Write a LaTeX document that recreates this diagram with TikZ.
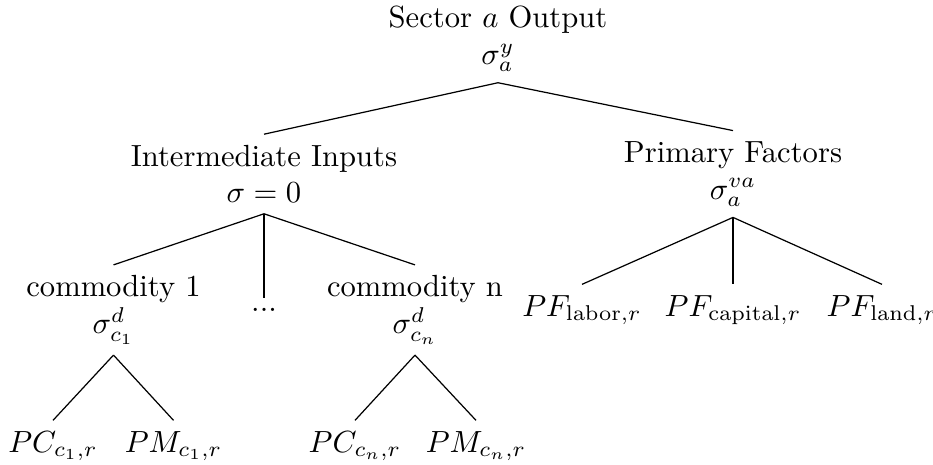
\documentclass[tikz,border=0pt]{standalone}
\begin{document}
\begin{tikzpicture}[x=0.3268pt,y=-0.3268pt,
  every node/.style={align=center},
  branch/.style={draw=black, line width=0.4pt}]
\useasboundingbox (0,0) rectangle (933,465);

% top level
\node (root) at (498,39) {Sector $a$ Output\\$\sigma_a^y$};

% second level
\node (ii) at (264,174) {Intermediate Inputs\\$\sigma = 0$};
\node (pf) at (733,174) {Primary Factors\\$\sigma_a^{va}$};

% third level
\node (c1)   at (113.5,310) {commodity 1\\$\sigma_{c_1}^d$};
\node (dots) at (264,310)   {...};
\node (cn)   at (415,310)   {commodity n\\$\sigma_{c_n}^d$};
\node (lab)  at (582,310)   {$PF_{\mathrm{labor},r}$};
\node (cap)  at (733,310)   {$PF_{\mathrm{capital},r}$};
\node (land) at (882,310)   {$PF_{\mathrm{land},r}$};

% fourth level
\node (pc1) at (53,446)    {$PC_{c_1,r}$};
\node (pm1) at (173.5,446) {$PM_{c_1,r}$};
\node (pcn) at (355,446)   {$PC_{c_n,r}$};
\node (pmn) at (476,446)   {$PM_{c_n,r}$};

% branches
\draw[branch] (root.south) -- (ii.north);
\draw[branch] (root.south) -- (pf.north);
\draw[branch] (ii.south) -- (c1.north);
\draw[branch] (ii.south) -- (dots.north);
\draw[branch] (ii.south) -- (cn.north);
\draw[branch] (pf.south) -- (lab.north);
\draw[branch] (pf.south) -- (cap.north);
\draw[branch] (pf.south) -- (land.north);
\draw[branch] (c1.south) -- (pc1.north);
\draw[branch] (c1.south) -- (pm1.north);
\draw[branch] (cn.south) -- (pcn.north);
\draw[branch] (cn.south) -- (pmn.north);
\end{tikzpicture}
\end{document}
